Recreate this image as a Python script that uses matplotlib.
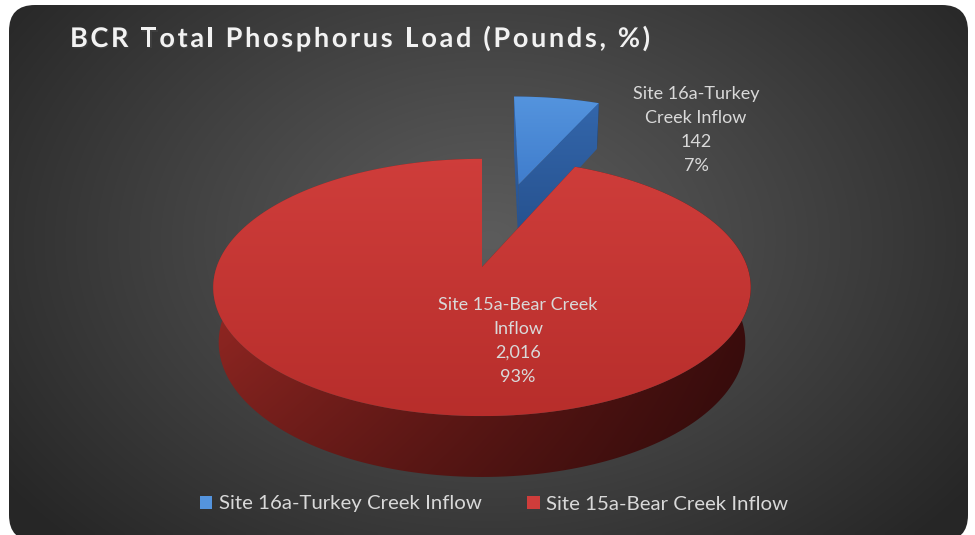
import numpy as np
import matplotlib.pyplot as plt
import matplotlib.patheffects as pe
from matplotlib.patches import Polygon, FancyBboxPatch, Patch

# data
categories = ["Site 16a-Turkey Creek Inflow", "Site 15a-Bear Creek Inflow"]
label_names = ["Site 16a-Turkey\nCreek Inflow", "Site 15a-Bear Creek\nInflow"]
loads = [142, 2016]
explode = [0.75, 0.0]
title = "BCR Total Phosphorus Load (Pounds, %)"

W, H = 975, 535
FONT = "Lato"

# simple perspective camera for the 3D pie
ALPHA = np.radians(28.2)
DIST = 5.54
KF = 1470.0
CX, CY = 482.0, 267.0
DEPTH = 0.237


def proj(x, y, z):
    x, y, z = np.asarray(x, float), np.asarray(y, float), np.asarray(z, float)
    sv = y * np.sin(ALPHA) + z * np.cos(ALPHA)
    d = DIST + y * np.cos(ALPHA) - z * np.sin(ALPHA)
    return CX + KF * x / d, CY - KF * sv / d


def grad_fill(ax, verts, img, zorder):
    poly = Polygon(verts, closed=True, fc="none", ec="none")
    ax.add_patch(poly)
    x0, y0 = verts.min(axis=0)
    x1, y1 = verts.max(axis=0)
    im = ax.imshow(img, extent=(x0, x1, y1, y0), zorder=zorder,
                   interpolation="bilinear", aspect="auto")
    im.set_clip_path(poly)


def lin_grad(c_a, c_b, horiz=False, n=64, shade=False):
    t = np.linspace(0, 1, n)
    if horiz:
        tt = np.tile(t, (n, 1))
    else:
        tt = np.tile(t[:, None], (1, n))
    a, b = np.array(c_a), np.array(c_b)
    img = a + (b - a) * tt[..., None]
    if shade:
        # darken towards the bottom
        v = np.tile(t[:, None], (1, n))[..., None]
        img = img * (1 - 0.35 * v)
    return np.clip(img, 0, 1)


def slice_pts(t0, t1, off):
    th = np.radians(np.linspace(t0, t1, 240))
    mid = np.radians((t0 + t1) / 2)
    ox, oy = off * np.cos(mid), off * np.sin(mid)
    rx, ry = ox + np.cos(th), oy + np.sin(th)
    return ox, oy, rx, ry


def draw_slice(ax, t0, t1, off, cols, z0):
    ox, oy, rx, ry = slice_pts(t0, t1, off)
    top_x, top_y = proj(rx, ry, 0)
    bot_x, bot_y = proj(rx, ry, -DEPTH)
    ax_t, ay_t = proj(ox, oy, 0)
    ax_b, ay_b = proj(ox, oy, -DEPTH)

    outer = np.vstack([np.column_stack([top_x, top_y]),
                       np.column_stack([bot_x, bot_y])[::-1]])
    grad_fill(ax, outer, lin_grad(cols["side_a"], cols["side_b"], horiz=True,
                                  shade=True), z0)

    # radial walls (only the ones facing the camera show)
    for k in (0, -1):
        wall = np.array([[ax_t, ay_t], [top_x[k], top_y[k]],
                         [bot_x[k], bot_y[k]], [ax_b, ay_b]])
        grad_fill(ax, wall, lin_grad(cols["wall_a"], cols["wall_b"]), z0 + 0.5)

    top = np.vstack([[ax_t, ay_t], np.column_stack([top_x, top_y])])
    grad_fill(ax, top, lin_grad(cols["top_a"], cols["top_b"]), z0 + 1)


fig = plt.figure(figsize=(W / 100, H / 100), dpi=100)
fig.patch.set_facecolor("white")
ax = fig.add_axes([0, 0, 1, 1])
ax.set_xlim(0, W)
ax.set_ylim(H, 0)

# dark rounded panel with radial shading
panel = FancyBboxPatch((9, 5), 959, 536, boxstyle="round,pad=0,rounding_size=26",
                       fc="none", ec="none")
ax.add_patch(panel)
gx, gy = np.meshgrid(np.linspace(0, W, 200), np.linspace(0, H, 120))
r = np.sqrt(((gx - 490) / 600) ** 2 + ((gy - 240) / 430) ** 2)
r = np.clip(r, 0, 1) ** 1.1
c_in, c_out = np.array([0.36, 0.36, 0.36]), np.array([0.15, 0.15, 0.15])
bg = c_in + (c_out - c_in) * r[..., None]
bim = ax.imshow(bg, extent=(0, W, H, 0), zorder=0, interpolation="bilinear", aspect="auto")
bim.set_clip_path(panel)

blue = dict(top_a=(0.33, 0.58, 0.87), top_b=(0.25, 0.49, 0.80),
            wall_a=(0.20, 0.40, 0.67), wall_b=(0.15, 0.32, 0.56),
            side_a=(0.18, 0.37, 0.63), side_b=(0.12, 0.26, 0.46))
red = dict(top_a=(0.81, 0.24, 0.23), top_b=(0.72, 0.18, 0.17),
           wall_a=(0.55, 0.13, 0.12), wall_b=(0.40, 0.09, 0.08),
           side_a=(0.68, 0.18, 0.16), side_b=(0.28, 0.06, 0.06))
styles = [blue, red]

total = sum(loads)
start = 90.0
for i, v in enumerate(loads):
    sweep = 360.0 * v / total
    draw_slice(ax, start, start - sweep, explode[i], styles[i], 2 + 3 * i)
    start -= sweep

# data labels
label_pos = [(696, 130), (518, 341)]
for name, v, (lx, ly) in zip(label_names, loads, label_pos):
    pct = 100.0 * v / total
    ax.text(lx, ly, f"{name}\n{v:,}\n{pct:.0f}%", ha="center", va="center",
            fontsize=13, family=FONT, color="#D9D9D9", linespacing=1.6, zorder=20)

# title with expanded letter spacing
renderer = fig.canvas.get_renderer()
t_kw = dict(fontsize=19.5, fontweight="bold", family=FONT, color="#F2F2F2",
            ha="left", va="baseline", zorder=20,
            path_effects=[pe.withSimplePatchShadow(offset=(1, -1), alpha=0.5)])
chars = []
widths = []
for ch in title:
    t = ax.text(0, 47, ch, **t_kw)
    chars.append(t)
    widths.append(t.get_window_extent(renderer).width)
gap = (580 - sum(widths)) / (len(title) - 1)
x = 70.0
for t, w in zip(chars, widths):
    t.set_x(x)
    x += w + gap

handles = [Patch(fc=s["top_a"], ec="none", label=c) for s, c in zip(styles, categories)]
leg = ax.legend(handles=handles, loc="center", bbox_to_anchor=(494 / W, 1 - 504 / H),
                ncol=2, frameon=False, prop={"family": FONT, "size": 14.7},
                labelcolor="#D9D9D9", handlelength=0.6, handleheight=0.6,
                handletextpad=0.3, columnspacing=2.25)
leg.set_zorder(20)

ax.axis("off")
fig.savefig("out.png", dpi=100)
